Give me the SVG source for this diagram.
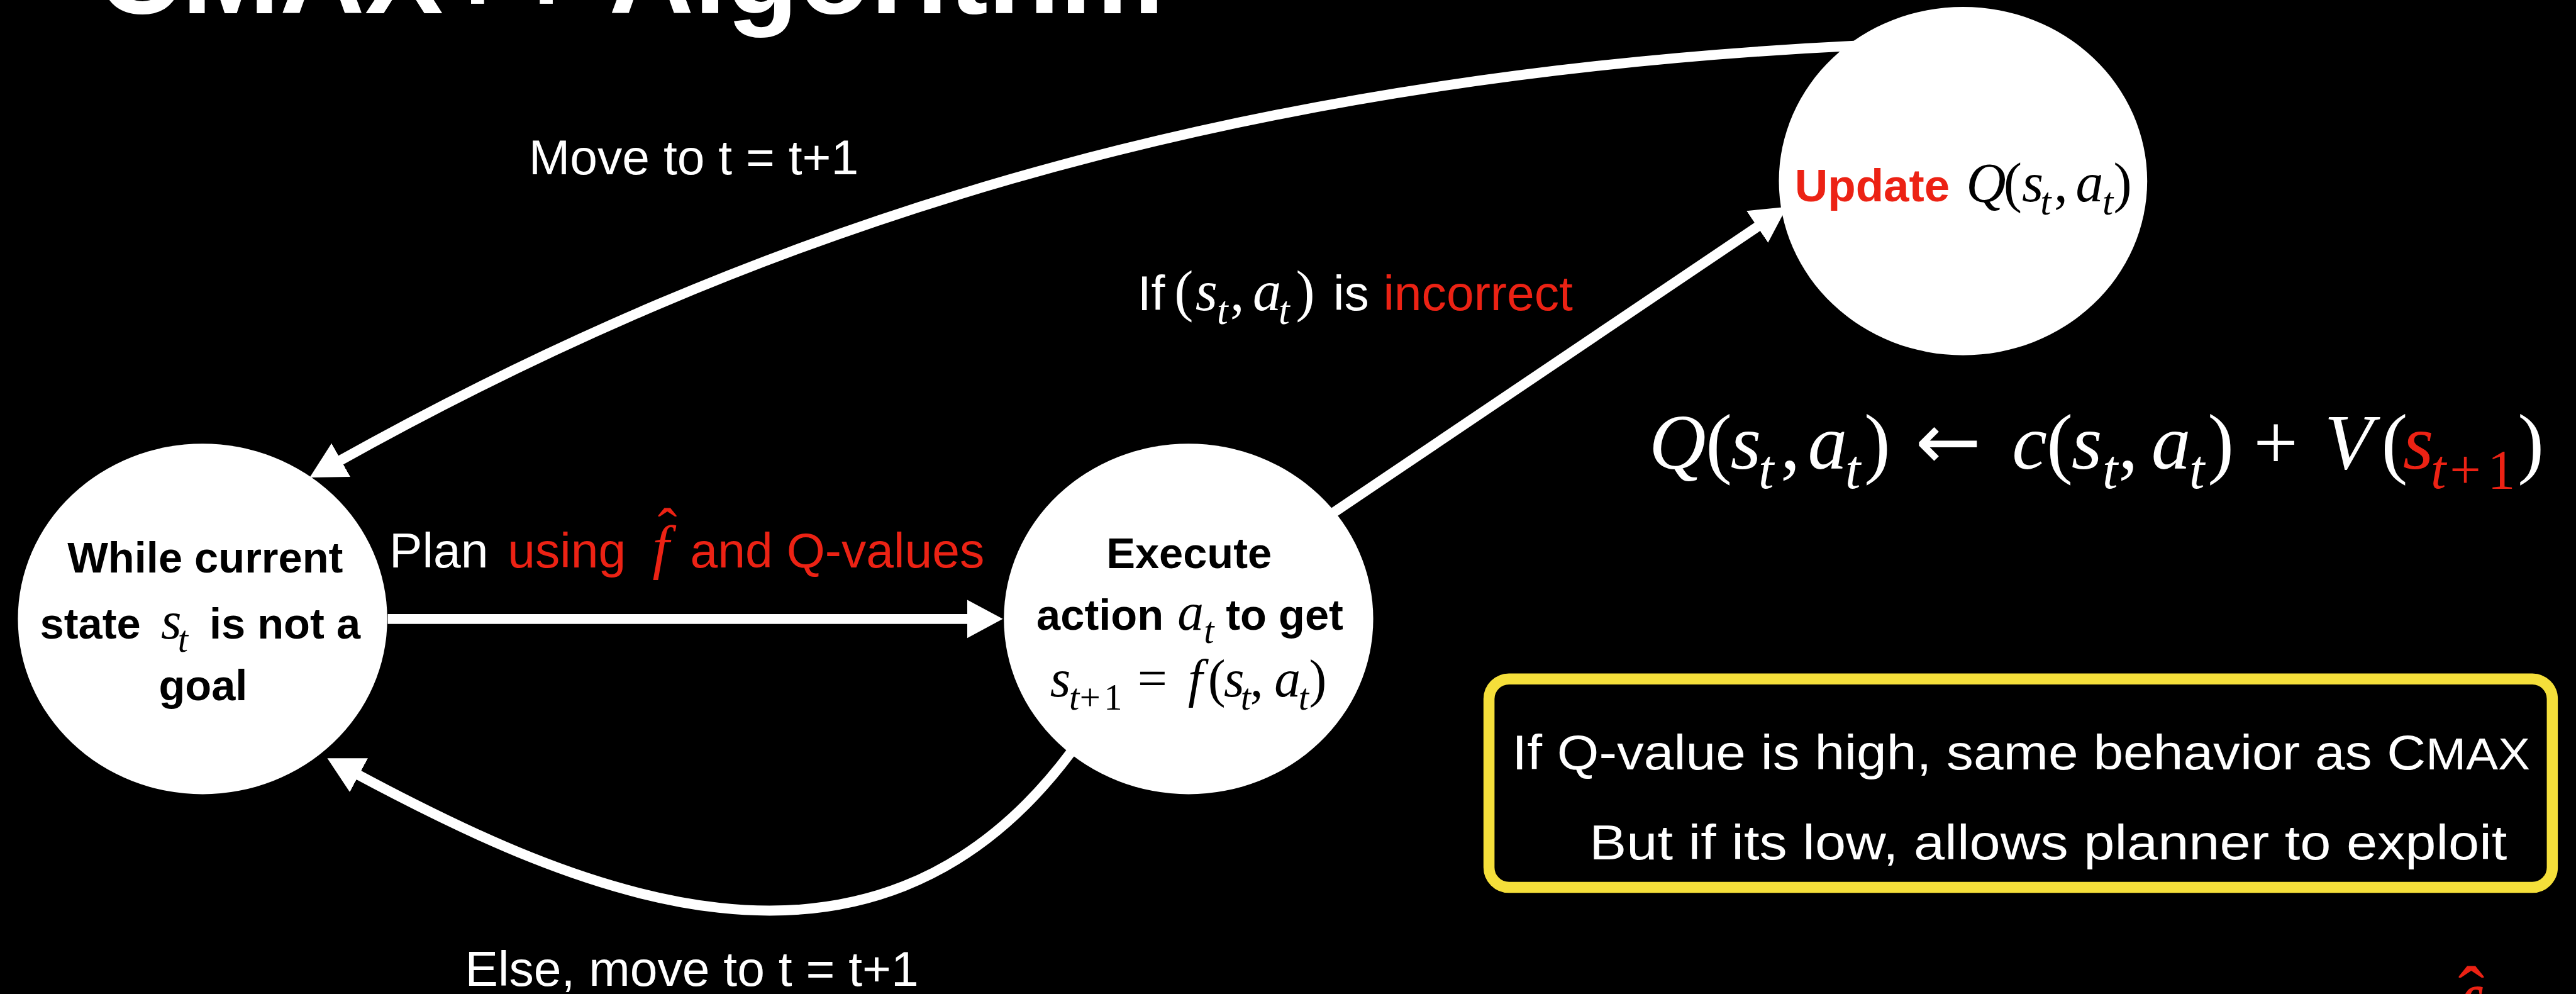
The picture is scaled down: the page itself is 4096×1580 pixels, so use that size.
<svg xmlns="http://www.w3.org/2000/svg" width="4096" height="1580" viewBox="0 0 4096 1580">
<style>
.sans{font-family:"Liberation Sans",Arial,sans-serif}
.bold{font-weight:bold}
.math{font-family:"Liberation Serif","Times New Roman",serif;font-style:italic;font-weight:normal}
.up{font-family:"Liberation Serif","Times New Roman",serif;font-style:normal;font-weight:normal}
.arr{font-family:"DejaVu Sans",sans-serif;font-style:normal;font-weight:normal}
.node{fill:#fff}
.ntxt{font-family:"Liberation Sans",Arial,sans-serif;font-weight:bold;font-size:82px;fill:#000}
.lbl{font-family:"Liberation Sans",Arial,sans-serif;font-size:94px;fill:#fff}
.red{fill:#EC2214}
.blk{fill:#000}
.wht{fill:#fff}
.conn{fill:none;stroke:#fff;stroke-width:19;marker-end:url(#ah)}
</style>
<defs>
<marker id="ah" markerUnits="userSpaceOnUse" viewBox="0 -37 68 74" markerWidth="68" markerHeight="74" refX="8" refY="0" orient="auto">
<path d="M0,-36.5 L68,0 L0,36.5 Z" fill="#fff"/>
</marker>
</defs>
<rect width="4096" height="1580" fill="#000"/>
<g transform="scale(0.8366)">
<g id="title">
<text class="sans bold wht" x="184" y="25" font-size="222" textLength="2029" lengthAdjust="spacingAndGlyphs">CMAX++ Algorithm</text>
</g>
<g id="connectors">
<path id="c-plan" class="conn" d="M737,1176 L1846,1176"/>
<path id="c-incorrect" class="conn" d="M2530,977 L3346.6,426.5"/>
<path id="c-move" class="conn" d="M3525,87 C2310,146 1427,439 641,878"/>
<path id="c-else" class="conn" d="M2035,1430 C1651,1942 1089,1691 675,1469"/>
</g>
<g id="node-while">
<ellipse class="node" cx="385" cy="1176" rx="351" ry="333"/>
<text class="ntxt" x="390" y="1088" text-anchor="middle">While current</text>
<text class="ntxt" y="1213"><tspan x="76">state</tspan><tspan class="math" x="306" font-size="100">s</tspan><tspan class="math" x="338" y="1238" font-size="70">t</tspan><tspan x="398" y="1213">is not a</tspan></text>
<text class="ntxt" x="386" y="1330" text-anchor="middle">goal</text>
</g>
<g id="node-execute">
<ellipse class="node" cx="2259" cy="1176" rx="351" ry="333"/>
<text class="ntxt" x="2260" y="1079" text-anchor="middle">Execute</text>
<text class="ntxt" y="1197"><tspan x="1970">action</tspan><tspan class="math" x="2238" font-size="100">a</tspan><tspan class="math" x="2288" y="1222" font-size="70">t</tspan><tspan x="2330" y="1197">to get</tspan></text>
<text class="blk" y="1323" font-size="100"><tspan class="math" x="1996">s</tspan><tspan class="math" x="2032" y="1348" font-size="70">t</tspan><tspan class="up" x="2052" font-size="70">+</tspan><tspan class="up" x="2098" font-size="70">1</tspan><tspan class="up" x="2162" y="1323">=</tspan><tspan class="math" x="2258">f</tspan><tspan class="up" x="2296">(</tspan><tspan class="math" x="2326">s</tspan><tspan class="math" x="2358" y="1348" font-size="70">t</tspan><tspan class="up" x="2376" y="1323">,</tspan><tspan class="math" x="2422">a</tspan><tspan class="math" x="2468" y="1348" font-size="70">t</tspan><tspan class="up" x="2488" y="1323">)</tspan></text>
</g>
<g id="node-update">
<ellipse class="node" cx="3731" cy="344" rx="350" ry="331"/>
<text y="382" font-size="105"><tspan class="sans bold red" x="3411" font-size="87">Update</tspan><tspan class="math blk" x="3737">Q</tspan><tspan class="up blk" x="3808">(</tspan><tspan class="math blk" x="3843">s</tspan><tspan class="math blk" x="3878" y="408" font-size="74">t</tspan><tspan class="up blk" x="3904" y="382">,</tspan><tspan class="math blk" x="3945">a</tspan><tspan class="math blk" x="3996" y="408" font-size="74">t</tspan><tspan class="up blk" x="4017" y="382">)</tspan></text>
</g>
<g id="labels">
<text class="lbl" y="1078" font-size="92"><tspan x="740">Plan</tspan><tspan class="red" x="965">using</tspan><tspan class="math red" x="1240" font-size="115">f</tspan><tspan class="red" x="1312">and Q-values</tspan></text>
<text class="up red" x="1250" y="1041" font-size="110">ˆ</text>
<text class="lbl" y="589" font-size="95"><tspan x="2162">If</tspan><tspan class="up" x="2232" font-size="108">(</tspan><tspan class="math" x="2272" font-size="108">s</tspan><tspan class="math" x="2313" y="616" font-size="76">t</tspan><tspan class="up" x="2338" y="589" font-size="108">,</tspan><tspan class="math" x="2381" font-size="108">a</tspan><tspan class="math" x="2430" y="616" font-size="76">t</tspan><tspan class="up" x="2463" y="589" font-size="108">)</tspan><tspan x="2534">is</tspan><tspan class="red" x="2629">incorrect</tspan></text>
<text class="lbl" x="1005" y="331" font-size="95">Move to t = t+1</text>
<text class="lbl" x="884" y="1873" font-size="94">Else, move to t = t+1</text>
</g>
<g id="equation">
<text class="wht" y="890" font-size="150"><tspan class="math" x="3134">Q</tspan><tspan class="up" x="3242">(</tspan><tspan class="math" x="3289">s</tspan><tspan class="math" x="3342" y="928" font-size="105">t</tspan><tspan class="up" x="3384" y="890">,</tspan><tspan class="math" x="3436">a</tspan><tspan class="math" x="3507" y="928" font-size="105">t</tspan><tspan class="up" x="3543" y="890">)</tspan><tspan class="arr" x="3640">←</tspan><tspan class="math" x="3824">c</tspan><tspan class="up" x="3890">(</tspan><tspan class="math" x="3937">s</tspan><tspan class="math" x="3996" y="928" font-size="105">t</tspan><tspan class="up" x="4026" y="890">,</tspan><tspan class="math" x="4089">a</tspan><tspan class="math" x="4161" y="928" font-size="105">t</tspan><tspan class="up" x="4196" y="890">)</tspan><tspan class="up" x="4283">+</tspan><tspan class="math" x="4418">V</tspan><tspan class="up" x="4526">(</tspan><tspan class="math red" x="4567">s</tspan><tspan class="math red" x="4620" y="928" font-size="105">t</tspan><tspan class="up red" x="4656" font-size="105">+</tspan><tspan class="up red" x="4728" font-size="105">1</tspan><tspan class="up" x="4785" y="890">)</tspan></text>
</g>
<g id="note">
<rect x="2830" y="1290" width="2021" height="396" rx="38" fill="none" stroke="#F5DF3A" stroke-width="21"/>
<text class="lbl" x="2874" y="1462" font-size="103" textLength="1935" lengthAdjust="spacingAndGlyphs">If Q-value is high, same behavior as C<tspan font-size="84">MAX</tspan></text>
<text class="lbl" x="3021" y="1633" font-size="105" textLength="1744" lengthAdjust="spacingAndGlyphs">But if its low, allows planner to exploit</text>
</g>
<g id="partial-fhat">
<text class="up red" x="4672" y="1939" font-size="150">ˆ</text>
<text class="math red" x="4660" y="1979" font-size="150">f</text>
</g>
</g>
</svg>
